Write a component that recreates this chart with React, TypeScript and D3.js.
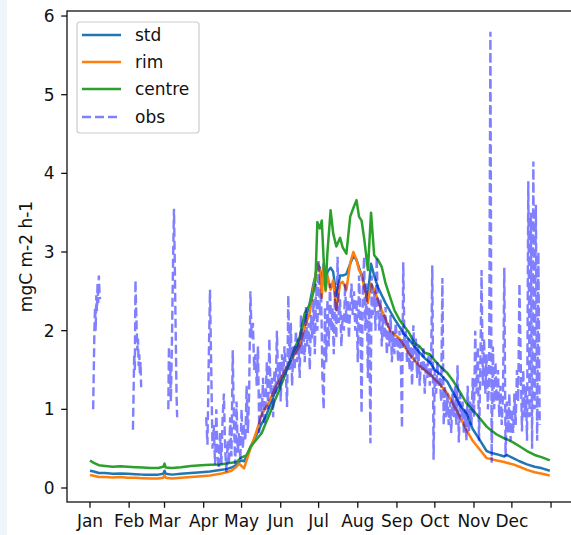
import React from "react";
import * as d3 from "d3";

// Month ticks (day of year at the start of each month, plus the following Jan 1)
const monthStartDays = [0, 31, 59, 90, 120, 151, 181, 212, 243, 273, 304, 334, 365];
const monthLabels = ["Jan", "Feb", "Mar", "Apr", "May", "Jun", "Jul", "Aug", "Sep", "Oct", "Nov", "Dec", ""];
const yTicks = [0, 1, 2, 3, 4, 5, 6];

// Modelled fluxes (mgC m-2 h-1) at day-of-year knots
const modelDays = [
  0, 3, 7, 12, 18, 24, 30, 36, 42, 48,
  54, 58, 59, 60, 65, 72, 80, 88, 95, 103,
  108, 112, 116, 118, 120, 122, 124, 127, 131, 136,
  139, 142.5, 146, 150, 154, 158, 162, 166, 170, 174,
  177, 178.5, 180, 182, 183.5, 185, 186.5, 188, 190.5, 192.5,
  195, 198, 200, 203, 206, 208.5, 211, 213, 215, 217,
  218.5, 220, 222.5, 225, 228, 231, 234, 237.5, 241, 245,
  249, 252, 257, 261, 265, 269, 273, 277, 283, 288,
  293, 298, 303, 309, 314, 317, 322, 328, 330, 335,
  340, 346, 352, 358, 364,
];

const stdValues = [
  0.22, 0.21, 0.19, 0.19, 0.18, 0.185, 0.18, 0.175, 0.17, 0.17,
  0.17, 0.18, 0.22, 0.18, 0.17, 0.18, 0.19, 0.2, 0.21, 0.23,
  0.24, 0.26, 0.29, 0.33, 0.35, 0.34, 0.4, 0.52, 0.65, 0.82,
  0.9, 1.05, 1.2, 1.32, 1.45, 1.6, 1.72, 1.85, 2.1, 2.35,
  2.6, 2.7, 2.85, 2.8, 2.55, 2.85, 2.6, 2.75, 2.8, 2.75,
  2.45, 2.7, 2.7, 2.72, 2.85, 2.95, 2.9, 2.8, 2.7, 2.6,
  2.5, 2.45, 2.85, 2.7, 2.55, 2.45, 2.35, 2.25, 2.15, 2.05,
  1.95, 1.9, 1.8, 1.72, 1.65, 1.6, 1.5, 1.45, 1.35, 1.2,
  1.05, 0.95, 0.75, 0.6, 0.47, 0.45, 0.43, 0.4, 0.42, 0.38,
  0.34, 0.3, 0.27, 0.25, 0.22,
];

const rimValues = [
  0.165, 0.155, 0.14, 0.14, 0.135, 0.14, 0.13, 0.13, 0.125, 0.12,
  0.12, 0.13, 0.16, 0.13, 0.12, 0.13, 0.14, 0.15, 0.16, 0.18,
  0.2, 0.22, 0.27, 0.31, 0.28, 0.25, 0.35, 0.5, 0.68, 0.93,
  1.02, 1.12, 1.25, 1.37, 1.48, 1.6, 1.7, 1.8, 2.05, 2.22,
  2.55, 2.68, 2.86, 2.75, 2.42, 2.81, 2.5, 2.7, 2.52, 2.64,
  2.26, 2.6, 2.62, 2.52, 2.86, 3.0, 2.9, 2.77, 2.72, 2.56,
  2.45, 2.35, 2.6, 2.52, 2.39, 2.26, 2.15, 2.0, 1.95, 1.9,
  1.8, 1.72, 1.62, 1.55, 1.5, 1.45, 1.38, 1.32, 1.2, 1.05,
  0.9, 0.74, 0.6, 0.48, 0.38, 0.37, 0.35, 0.33, 0.32, 0.3,
  0.27, 0.23, 0.2, 0.18, 0.16,
];

const centreValues = [
  0.35, 0.32, 0.29, 0.28, 0.27, 0.275, 0.27, 0.265, 0.26, 0.255,
  0.255, 0.27, 0.31, 0.26, 0.255, 0.265, 0.28, 0.29, 0.295, 0.3,
  0.31, 0.32, 0.33, 0.36, 0.39, 0.4, 0.42, 0.52, 0.6, 0.7,
  0.82, 0.95, 1.1, 1.25, 1.42, 1.59, 1.78, 1.92, 2.22, 2.33,
  2.5, 2.64, 3.38, 3.3, 3.4, 2.9, 2.52, 3.0, 3.53, 3.24,
  3.07, 3.18, 3.06, 2.98, 3.45, 3.56, 3.66, 3.45, 3.4, 3.18,
  2.98, 2.77, 3.5, 2.96, 2.9, 2.81, 2.6, 2.43, 2.26, 2.14,
  2.05, 1.99, 1.84, 1.8, 1.72, 1.7, 1.62, 1.55, 1.46, 1.35,
  1.22, 1.08, 0.99, 0.88, 0.78, 0.74, 0.68, 0.63, 0.62, 0.58,
  0.53, 0.47, 0.42, 0.39, 0.35,
];

// Observations: three short winter campaigns (half-day samples)
const obsWinterStarts = [2.5, 34, 62];
const obsWinterStep = 0.5;
const obsWinterRuns = [
  [1.0, 1.5, 2.0, 2.3, 2.0, 2.45, 2.25, 2.6, 2.35, 2.7, 2.5, 2.4],
  [0.74, 1.2, 1.7, 1.5, 2.64, 2.3, 2.0, 1.75, 1.9, 1.55, 1.7, 1.45, 1.6, 1.28],
  [1.0, 1.8, 1.3, 1.6, 1.1, 1.5, 2.0, 2.6, 3.1, 3.55, 3.0, 2.4, 1.8, 1.2, 0.9],
];

// Observations: continuous daily record from early April
const obsMainStart = 92;
const obsMainValues = [
  0.9, 0.55, 1.6, 2.52, 1.5, 0.5, 0.8, 0.3, 1.0, 0.4,
  0.25, 0.7, 0.3, 0.9, 1.2, 0.5, 0.2, 0.6, 0.3, 0.9,
  0.4, 1.75, 0.8, 0.3, 1.1, 0.45, 0.7, 0.35, 1.0, 0.5,
  0.8, 0.6, 1.3, 0.7, 1.2, 2.5, 1.9, 2.1, 1.5, 1.7,
  1.3, 1.8, 0.7, 1.2, 0.9, 1.4, 0.8, 1.1, 1.6, 1.0,
  1.9, 1.2, 1.4, 0.9, 1.5, 1.2, 2.0, 1.3, 1.6, 1.1,
  1.7, 1.4, 1.8, 1.5, 1.03, 2.45, 1.5, 2.1, 1.3, 1.8,
  1.5, 2.0, 1.6, 1.9, 1.4, 2.2, 1.7, 2.0, 1.6, 2.3,
  1.8, 2.1, 1.5, 2.2, 1.9, 2.4, 1.7, 2.6, 2.0, 2.9,
  2.2, 2.5, 1.4, 1.0, 2.3, 1.6, 2.4, 1.8, 2.6, 2.0,
  2.3, 1.7, 2.5, 1.9, 2.94, 2.1, 2.4, 1.8, 2.2, 2.0,
  2.6, 2.1, 2.4, 1.9, 2.3, 2.6, 2.2, 2.5, 2.0, 2.4,
  1.6, 2.7, 2.2, 0.95, 2.5, 2.94, 2.0, 2.6, 1.4, 2.3,
  0.57, 2.7, 2.2, 2.5, 2.0, 2.94, 2.3, 2.0, 2.4, 1.8,
  2.2, 1.9, 2.3, 1.7, 2.1, 1.8, 2.2, 1.6, 2.0, 1.7,
  2.1, 1.9, 1.6, 2.0, 1.7, 0.76, 2.87, 1.8, 2.0, 1.6,
  1.9, 1.5, 1.8, 1.3, 2.07, 1.6, 1.9, 1.4, 1.8, 1.3,
  1.6, 1.5, 1.8, 1.2, 1.6, 1.4, 1.7, 1.3, 1.5, 2.83,
  0.36, 1.5, 1.2, 1.6, 1.3, 1.4, 1.1, 2.67, 0.8, 1.3,
  0.9, 1.2, 0.8, 1.1, 0.7, 1.2, 0.9, 1.3, 0.8, 1.56,
  0.58, 1.2, 0.9, 1.1, 0.7, 1.0, 0.6, 1.3, 0.7, 1.1,
  0.8, 1.4, 0.9, 2.0, 1.2, 1.8, 0.6, 1.5, 2.77, 1.3,
  1.9, 1.2, 1.7, 1.0, 1.4, 5.8, 0.32, 1.8, 1.0, 1.6,
  1.1, 1.5, 0.9, 1.3, 0.8, 1.2, 2.8, 0.4, 1.1, 0.7,
  1.2, 0.6, 1.0, 0.7, 1.2, 0.8, 1.5, 1.1, 2.6, 1.6,
  0.72, 1.5, 0.9, 1.3, 0.6, 3.9, 0.9, 3.5, 0.5, 4.15,
  1.0, 3.6, 0.6, 3.0, 0.8,
];

const seriesNames = ["std", "rim", "centre", "obs"];
const seriesColors = ["#1f77b4", "#ff7f0e", "#2ca02c", "#0000ff"];

type Pt = { d: number; v: number } | null;

const W = 571;
const H = 535;
const FONT = "DejaVu Sans";
const FS = 17;

export default function App() {
  const x = d3.scaleLinear().domain([-18.2, 381.6]).range([67, 572]);
  const y = d3.scaleLinear().domain([-0.178, 6.064]).range([502, 11]);

  const line = d3
    .line<Pt>()
    .defined((p) => p !== null)
    .x((p) => x((p as { d: number }).d))
    .y((p) => y((p as { v: number }).v));

  const model = [stdValues, rimValues, centreValues].map((vals) =>
    line(modelDays.map((d, i) => ({ d, v: vals[i] })))
  );

  const obsPts: Pt[] = [];
  obsWinterRuns.forEach((run, k) => {
    run.forEach((v, i) => obsPts.push({ d: obsWinterStarts[k] + i * obsWinterStep, v }));
    obsPts.push(null);
  });
  obsMainValues.forEach((v, i) => obsPts.push({ d: obsMainStart + i, v }));
  const obsPath = line(obsPts);

  const left = x.range()[0];
  const right = x.range()[1];
  const top = y.range()[1];
  const bottom = y.range()[0];
  const tickLen = 5.8;

  const legendRows = [35, 62, 89, 117];

  return (
    <svg
      width={W}
      height={H}
      style={{ position: "absolute", left: 0, top: 0, background: "#fff" }}
      fontFamily={FONT}
    >
      <rect x={0} y={0} width={W} height={H} fill="#fff" />
      <rect x={0} y={0} width={7} height={H} fill="#eef5fb" />

      {/* model series */}
      {model.map((p, i) => (
        <path key={i} d={p || ""} fill="none" stroke={seriesColors[i]} strokeWidth={2.5} strokeLinejoin="round" />
      ))}
      {/* observations */}
      <path
        d={obsPath || ""}
        fill="none"
        stroke={seriesColors[3]}
        strokeOpacity={0.5}
        strokeWidth={2.4}
        strokeDasharray="9 4"
      />

      {/* frame */}
      <rect x={left} y={top} width={right - left} height={bottom - top} fill="none" stroke="#111" strokeWidth={1.3} />

      {/* y axis */}
      {yTicks.map((t) => (
        <g key={t}>
          <line x1={left - tickLen} x2={left} y1={y(t)} y2={y(t)} stroke="#111" strokeWidth={1.3} />
          <text x={left - tickLen - 6.5} y={y(t) + 6} textAnchor="end" fontSize={FS} fill="#111">
            {t}
          </text>
        </g>
      ))}
      <text
        transform={`translate(26, ${(top + bottom) / 2}) rotate(-90)`}
        textAnchor="middle"
        dominantBaseline="central"
        fontSize={FS}
        fill="#111"
      >
        mgC m-2 h-1
      </text>

      {/* x axis */}
      {monthStartDays.map((d, i) => (
        <g key={d}>
          <line x1={x(d)} x2={x(d)} y1={bottom} y2={bottom + tickLen} stroke="#111" strokeWidth={1.3} />
          <text x={x(d)} y={527} textAnchor="middle" fontSize={FS} fill="#111">
            {monthLabels[i]}
          </text>
        </g>
      ))}

      {/* legend */}
      <rect x={77} y={22} width={122} height={111} rx={3} fill="#fff" fillOpacity={0.8} stroke="#cccccc" strokeWidth={1.2} />
      {seriesNames.map((name, i) => (
        <g key={name}>
          <line
            x1={82}
            x2={121}
            y1={legendRows[i]}
            y2={legendRows[i]}
            stroke={seriesColors[i]}
            strokeOpacity={i === 3 ? 0.5 : 1}
            strokeWidth={2.4}
            strokeDasharray={i === 3 ? "9 4" : undefined}
          />
          <text x={135} y={legendRows[i] + 6} fontSize={FS} fill="#111">
            {name}
          </text>
        </g>
      ))}
    </svg>
  );
}
